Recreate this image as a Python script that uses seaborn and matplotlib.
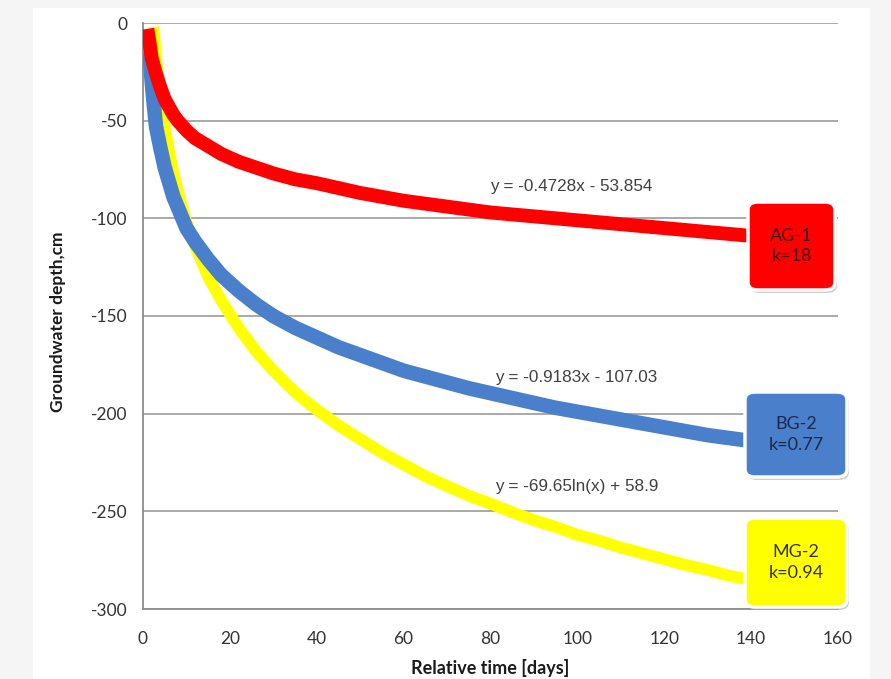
import matplotlib
matplotlib.use("Agg")
import matplotlib.pyplot as plt
import pandas as pd
import seaborn as sns
from matplotlib.patches import FancyBboxPatch, Rectangle

# ---- data ----
ag1_days = [1.0, 1.5, 2, 3, 4, 5, 6, 7, 8, 10, 12, 15, 18, 22, 26, 30, 35, 40,
            45, 50, 55, 60, 65, 70, 75, 80, 85, 90, 95, 100, 105, 110, 115, 120,
            125, 130, 135, 140]
ag1_depth = [-3, -10, -18, -26, -33, -39, -43, -47, -50, -55, -59, -63, -67, -71,
             -74, -77, -80, -82, -84.5, -87, -89, -91, -92.5, -94, -95.5, -97, -98,
             -99, -100, -101, -102, -103, -104, -105, -106, -107, -108, -109]

bg2_days = [1.5, 2, 2.5, 3, 4, 5, 7, 10, 12, 15, 18, 22, 26, 30, 35, 40,
            45, 50, 55, 60, 65, 70, 75, 80, 85, 90, 95, 100, 105, 110, 115, 120,
            125, 130, 135, 140]
bg2_depth = [-15, -30, -42, -53, -64, -74, -89, -105, -112, -121, -129, -137, -144,
             -150, -156, -161, -166, -170, -174, -178, -181, -184, -187, -189.5,
             -192, -194.5, -197, -199, -201, -203, -205, -207, -209, -211, -212.5, -214]

mg2_days = [2.4, 3, 4, 5, 6, 7, 8, 10, 12, 15, 18, 22, 26, 30, 35, 40,
            45, 50, 55, 60, 65, 70, 75, 80, 85, 90, 95, 100, 105, 110, 115, 120,
            125, 130, 135, 140]
mg2_depth = [-2, -18, -38, -53, -66, -77, -86, -102, -114, -130, -142, -156, -168,
             -178, -189, -198, -206, -213, -220, -226, -232, -237, -242, -246,
             -250.5, -254.5, -258, -262, -265, -268.5, -271.5, -274.5, -277.5,
             -280, -283, -285]

series_names = ["AG-1", "BG-2", "MG-2"]
series_k = ["k=18", "k=0.77", "k=0.94"]
equations = ["y = -0.4728x - 53.854", "y = -0.9183x - 107.03", "y = -69.65ln(x) + 58.9"]
y_ticks = [0, -50, -100, -150, -200, -250, -300]
x_ticks = [0, 20, 40, 60, 80, 100, 120, 140, 160]

colors = {"AG-1": "#FF0000", "BG-2": "#4A7FCC", "MG-2": "#FFFF00"}
text_colors = {"AG-1": "#4a0a0a", "BG-2": "#1c2a48", "MG-2": "#333333"}

df = pd.concat([
    pd.DataFrame({"days": ag1_days, "depth": ag1_depth, "well": "AG-1"}),
    pd.DataFrame({"days": bg2_days, "depth": bg2_depth, "well": "BG-2"}),
    pd.DataFrame({"days": mg2_days, "depth": mg2_depth, "well": "MG-2"}),
])

sns.set_theme(style="white")
plt.rcParams["font.family"] = ["Lato", "DejaVu Sans"]

W, H = 891, 679
fig = plt.figure(figsize=(W / 100, H / 100), dpi=100)
fig.patch.set_facecolor("#f5f5f5")
fig.patches.append(Rectangle((33 / W, 0), (870 - 33) / W, (H - 8) / H,
                             transform=fig.transFigure, facecolor="white",
                             edgecolor="none", zorder=-5))

ax = fig.add_axes([143 / W, (H - 609) / H, (838 - 143) / W, (609 - 23) / H])
ax.set_facecolor("white")
ax.set_zorder(1)

widths = {"AG-1": 10, "BG-2": 10.5, "MG-2": 8.5}
zorders = {"AG-1": 5, "BG-2": 4, "MG-2": 3}
for name in ["MG-2", "BG-2", "AG-1"]:
    sub = df[df["well"] == name]
    sns.lineplot(data=sub, x="days", y="depth", color=colors[name],
                 linewidth=widths[name], sort=False, estimator=None,
                 ax=ax, zorder=zorders[name], solid_capstyle="butt",
                 solid_joinstyle="round")

ax.set_xlim(0, 160)
ax.set_ylim(-300, 0)
ax.set_xticks(x_ticks)
ax.set_yticks(y_ticks)
ax.set_xticklabels([str(v) for v in x_ticks])
ax.set_yticklabels([str(v) for v in y_ticks])
ax.yaxis.grid(True, color="#a3a3a3", linewidth=1.3)
ax.xaxis.grid(False)
ax.set_axisbelow(True)
for s in ["top", "right"]:
    ax.spines[s].set_visible(False)
for s in ["left", "bottom"]:
    ax.spines[s].set_color("#8c8c8c")
    ax.spines[s].set_linewidth(1.3)
ax.tick_params(axis="y", length=0, pad=11, labelsize=12.5, labelcolor="#333333")
ax.tick_params(axis="x", length=0, pad=16, labelsize=12.5, labelcolor="#333333")
ax.set_xlabel("")
ax.set_ylabel("")

fig.text(58 / W, 1 - 322 / H, "Groundwater depth,cm", rotation=90, ha="center",
         va="center", fontsize=12.5, fontweight="bold", color="#1a1a1a")
fig.text(490 / W, 2 / H, "Relative time [days]", ha="center", va="bottom",
         fontsize=13, fontweight="bold", color="#1a1a1a")

# trendline equations
eq_pos = [(79.8, -83.5), (81, -181.5), (81, -237.5)]
for eq, (xx, yy) in zip(equations, eq_pos):
    ax.text(xx, yy, eq, ha="left", va="center", fontsize=12.3,
            family=["Liberation Sans", "DejaVu Sans"], color="#404040", zorder=6)

# labelled boxes
boxes = {"AG-1": (748, 202, 835, 290), "BG-2": (745, 392, 847, 477),
         "MG-2": (745, 518, 847, 607)}
r = 10
for name, k in zip(series_names, series_k):
    x0, y0, x1, y1 = boxes[name]
    fx, fy = x0 / W, 1 - y1 / H
    fw, fh = (x1 - x0) / W, (y1 - y0) / H
    shadow = FancyBboxPatch((fx + 2 / W, fy - 3 / H), fw, fh,
                            boxstyle=f"round,pad=0,rounding_size={r / W}",
                            transform=fig.transFigure, facecolor="#b0b0b0",
                            edgecolor="none", alpha=0.6, zorder=9)
    box = FancyBboxPatch((fx, fy), fw, fh,
                         boxstyle=f"round,pad=0,rounding_size={r / W}",
                         transform=fig.transFigure, facecolor=colors[name],
                         edgecolor="white", linewidth=2.5, zorder=10)
    fig.patches.append(shadow)
    fig.patches.append(box)
    cx = (x0 + x1) / 2 / W
    cy = 1 - (y0 + y1) / 2 / H
    fig.text(cx, cy, f"{name}\n{k}", ha="center", va="center", fontsize=13,
             color=text_colors[name], linespacing=1.35, zorder=11)

fig.savefig("out.png", dpi=100, facecolor=fig.get_facecolor())
